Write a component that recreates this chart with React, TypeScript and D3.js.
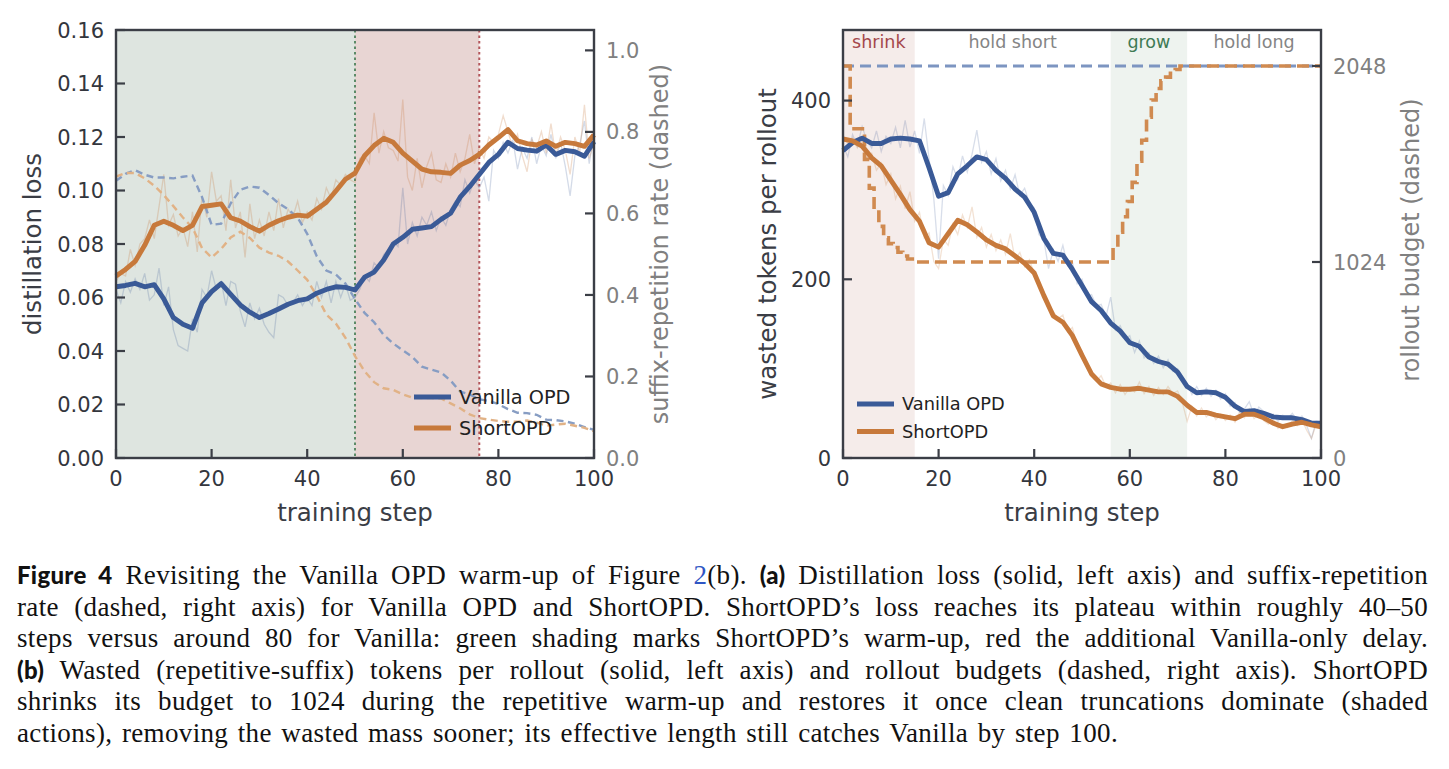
import React, { useEffect, useRef } from 'react';
import * as d3 from 'd3';

const W = 1449;
const H = 769;
const SANS = 'DejaVu Sans, sans-serif';
const SERIF = 'Liberation Serif, serif';
const BOLD = 'Lato, sans-serif';

const blue = '#3a5a97';
const orange = '#c7793b';
const axisColor = '#3b3e46';
const grayText = '#808080';

// training steps: raw series are logged every step, smoothed curves every 2 steps
const steps = d3.range(0, 101);
const smoothSteps = d3.range(0, 101, 2);

// ---------- panel (a): distillation loss + suffix-repetition rate ----------
const lossVanillaRaw = [
  0.063, 0.058, 0.066, 0.062, 0.067, 0.063, 0.069, 0.059, 0.061, 0.071,
  0.057, 0.064, 0.048, 0.042, 0.041, 0.040, 0.052, 0.047, 0.063, 0.060,
  0.070, 0.063, 0.066, 0.057, 0.066, 0.065, 0.055, 0.049, 0.058, 0.052,
  0.056, 0.050, 0.047, 0.045, 0.061, 0.060, 0.057, 0.058, 0.061, 0.057,
  0.060, 0.057, 0.066, 0.060, 0.066, 0.058, 0.066, 0.060, 0.065, 0.059,
  0.060, 0.063, 0.068, 0.066, 0.073, 0.071, 0.076, 0.078, 0.081, 0.079,
  0.101, 0.080, 0.088, 0.083, 0.090, 0.087, 0.092, 0.085, 0.090, 0.087,
  0.093, 0.096, 0.094, 0.104, 0.099, 0.104, 0.101, 0.105, 0.096, 0.115,
  0.112, 0.118, 0.114, 0.119, 0.108, 0.116, 0.112, 0.120, 0.110, 0.117,
  0.113, 0.121, 0.112, 0.118, 0.109, 0.098, 0.113, 0.117, 0.126, 0.110,
  0.121,
];
const lossShortRaw = [
  0.066, 0.069, 0.068, 0.078, 0.072, 0.080, 0.082, 0.089, 0.082, 0.094,
  0.106, 0.087, 0.091, 0.083, 0.086, 0.079, 0.092, 0.077, 0.098, 0.090,
  0.107, 0.096, 0.098, 0.085, 0.104, 0.086, 0.092, 0.075, 0.095, 0.082,
  0.089, 0.083, 0.092, 0.085, 0.097, 0.086, 0.093, 0.090, 0.096, 0.088,
  0.092, 0.089, 0.097, 0.093, 0.101, 0.097, 0.104, 0.102, 0.106, 0.104,
  0.103, 0.112, 0.113, 0.110, 0.129, 0.114, 0.122, 0.116, 0.115, 0.111,
  0.134, 0.105, 0.100, 0.112, 0.101, 0.109, 0.114, 0.104, 0.103, 0.110,
  0.105, 0.114, 0.107, 0.112, 0.121, 0.110, 0.116, 0.112, 0.120, 0.118,
  0.121, 0.128, 0.122, 0.116, 0.121, 0.113, 0.107, 0.119, 0.116, 0.122,
  0.114, 0.125, 0.113, 0.120, 0.115, 0.106, 0.120, 0.114, 0.132, 0.112,
  0.118,
];
const lossVanilla = [
  0.064, 0.0645, 0.0653, 0.064, 0.0648, 0.0595, 0.0525, 0.050, 0.0485, 0.058,
  0.0622, 0.0652, 0.0612, 0.0572, 0.0545, 0.0525, 0.054, 0.0557, 0.0575, 0.0588,
  0.0595, 0.0616, 0.063, 0.064, 0.0638, 0.0628, 0.0676, 0.0695, 0.074, 0.080,
  0.0825, 0.0855, 0.086, 0.0865, 0.0892, 0.0915, 0.0975, 0.1015, 0.106, 0.1105,
  0.1135, 0.118, 0.1157, 0.1151, 0.1147, 0.117, 0.1135, 0.115, 0.1145, 0.1128,
  0.1183,
];
const lossShort = [
  0.068, 0.0705, 0.0735, 0.0795, 0.087, 0.0885, 0.087, 0.085, 0.087, 0.094,
  0.0945, 0.095, 0.0898, 0.0886, 0.0865, 0.0848, 0.087, 0.0887, 0.090, 0.0908,
  0.0904, 0.093, 0.0956, 0.0998, 0.1042, 0.1065, 0.113, 0.1168, 0.1195, 0.118,
  0.114, 0.111, 0.108, 0.107, 0.1068, 0.1064, 0.1095, 0.1112, 0.1135, 0.117,
  0.1198, 0.1228, 0.1186, 0.1175, 0.117, 0.1185, 0.1165, 0.118, 0.1175, 0.1165,
  0.1208,
];
const rateVanilla = [
  0.680, 0.697, 0.706, 0.695, 0.688, 0.688, 0.686, 0.690, 0.693, 0.640,
  0.572, 0.575, 0.625, 0.658, 0.666, 0.663, 0.645, 0.625, 0.610, 0.590,
  0.550, 0.495, 0.460, 0.450, 0.428, 0.390, 0.356, 0.333, 0.302, 0.281,
  0.264, 0.248, 0.224, 0.217, 0.210, 0.190, 0.163, 0.156, 0.144, 0.140,
  0.132, 0.120, 0.111, 0.110, 0.106, 0.094, 0.093, 0.090, 0.084, 0.076,
  0.069,
];
const rateShort = [
  0.690, 0.699, 0.699, 0.686, 0.668, 0.645, 0.618, 0.590, 0.565, 0.515,
  0.492, 0.513, 0.541, 0.555, 0.540, 0.516, 0.504, 0.496, 0.482, 0.460,
  0.437, 0.398, 0.352, 0.330, 0.295, 0.250, 0.213, 0.186, 0.171, 0.167,
  0.156, 0.148, 0.147, 0.147, 0.146, 0.134, 0.122, 0.107, 0.098, 0.094,
  0.091, 0.089, 0.089, 0.092, 0.087, 0.079, 0.082, 0.084, 0.079, 0.074,
  0.066,
];
// ShortOPD warm-up ends at 50, Vanilla-only delay runs to 76
const warmupEdges = [0, 50, 76];
const lossTicks = [0, 0.02, 0.04, 0.06, 0.08, 0.1, 0.12, 0.14, 0.16];
const rateTicks = [0, 0.2, 0.4, 0.6, 0.8, 1.0];
const stepTicks = [0, 20, 40, 60, 80, 100];

// ---------- panel (b): wasted tokens + rollout budget ----------
const wastedVanillaRaw = [
  350, 337, 362, 349, 371, 355, 347, 366, 343, 360,
  352, 370, 347, 378, 348, 366, 341, 380, 335, 290,
  223, 305, 294, 326, 312, 338, 320, 340, 367, 331,
  343, 318, 335, 310, 322, 301, 317, 294, 302, 285,
  280, 250, 245, 212, 233, 220, 238, 215, 219, 195,
  200, 181, 183, 170, 172, 158, 180, 143, 148, 133,
  137, 118, 131, 112, 118, 106, 114, 101, 110, 97,
  100, 86, 83, 71, 80, 70, 78, 69, 76, 66,
  72, 58, 62, 51, 55, 63, 48, 57, 52, 45,
  49, 41, 48, 44, 50, 42, 47, 36, 22, 41,
  40,
];
const wastedShortRaw = [
  359, 352, 358, 347, 355, 336, 341, 322, 330, 306,
  318, 290, 304, 279, 298, 265, 275, 246, 252, 220,
  212, 245, 238, 262, 250, 272, 258, 281, 247, 258,
  236, 250, 232, 244, 228, 251, 222, 230, 214, 222,
  206, 194, 186, 170, 164, 156, 160, 141, 146, 123,
  120, 101, 98, 86, 92, 80, 84, 73, 82, 71,
  79, 74, 85, 72, 80, 70, 79, 71, 80, 72,
  75, 62, 41, 58, 47, 56, 46, 52, 43, 49,
  42, 48, 40, 52, 45, 55, 44, 50, 42, 38,
  43, 33, 38, 34, 42, 36, 43, 31, 22, 38,
  36,
];
const wastedVanilla = [
  344, 353, 358, 352, 352, 357, 358, 357, 355, 325,
  293, 297, 318, 327, 337, 334, 322, 313, 301, 292,
  275, 246, 229, 227, 211, 193, 175, 165, 151, 142,
  129, 125, 113, 108, 105, 96, 80, 73, 74, 73,
  68, 58, 52, 53, 50, 46, 45, 45, 43, 39,
  39,
];
const wastedShort = [
  357, 355, 349, 336, 327, 311, 295, 278, 265, 241,
  236, 251, 266, 261, 253, 244, 238, 234, 226, 218,
  207, 182, 159, 152, 137, 115, 94, 83, 79, 77,
  77, 78, 76, 74, 74, 69, 59, 51, 51, 48,
  46, 44, 49, 49, 45, 39, 35, 38, 40, 37,
  35,
];
const budgetShort = [
  2048, 2048, 1720, 1720, 1720, 1560, 1410, 1300, 1210, 1150,
  1120, 1100, 1075, 1055, 1040, 1024, 1024, 1024, 1024, 1024,
  1024, 1024, 1024, 1024, 1024, 1024, 1024, 1024, 1024, 1024,
  1024, 1024, 1024, 1024, 1024, 1024, 1024, 1024, 1024, 1024,
  1024, 1024, 1024, 1024, 1024, 1024, 1024, 1024, 1024, 1024,
  1024, 1024, 1024, 1024, 1024, 1024, 1024, 1100, 1180, 1260,
  1340, 1440, 1550, 1660, 1780, 1870, 1930, 1970, 1990, 2010,
  2030, 2048, 2048, 2048, 2048, 2048, 2048, 2048, 2048, 2048,
  2048, 2048, 2048, 2048, 2048, 2048, 2048, 2048, 2048, 2048,
  2048, 2048, 2048, 2048, 2048, 2048, 2048, 2048, 2048, 2048,
  2048,
];
const budgetVanillaSteps = [0, 100];
const budgetVanilla = [2048, 2048];

const phaseNames = ['shrink', 'hold short', 'grow', 'hold long'];
const phaseEdges = [0, 15, 56, 72, 100];
const phaseColors = ['#a4474b', '#858585', '#3f7b55', '#858585'];
const phaseFills = ['#f5ecea', 'none', '#eef3ef', 'none'];
const wastedTicks = [0, 200, 400];
const budgetTicks = [0, 1024, 2048];

const legendNames = ['Vanilla OPD', 'ShortOPD'];
const legendColors = [blue, orange];

type Pt = [number, number];
const zip = (xs: number[], ys: number[]): Pt[] => xs.map((x, i) => [x, ys[i]]);

function Frame({ x, y }: { x: d3.ScaleLinear<number, number>; y: d3.ScaleLinear<number, number> }) {
  const [x0, x1] = x.range();
  const [y0, y1] = y.range();
  return (
    <rect x={x0} y={y1} width={x1 - x0} height={y0 - y1} fill="none" stroke={axisColor} strokeWidth={2.4} />
  );
}

function BottomAxis({ x, y }: { x: d3.ScaleLinear<number, number>; y: number }) {
  return (
    <g>
      {stepTicks.map(t => (
        <g key={t}>
          <line x1={x(t)} x2={x(t)} y1={y} y2={y - 9} stroke={axisColor} strokeWidth={2.2} />
          <text x={x(t)} y={y + 28} textAnchor="middle" fontSize={21} fill="#33363d" fontFamily={SANS}>
            {t}
          </text>
        </g>
      ))}
    </g>
  );
}

function SideAxis({
  scale, ticks, at, side, color, fmt,
}: {
  scale: d3.ScaleLinear<number, number>; ticks: number[]; at: number; side: 'left' | 'right'; color: string;
  fmt: (v: number) => string;
}) {
  const dir = side === 'left' ? 1 : -1;
  return (
    <g>
      {ticks.map(t => (
        <g key={t}>
          <line x1={at} x2={at + dir * 9} y1={scale(t)} y2={scale(t)} stroke={axisColor} strokeWidth={2.2} />
          <text
            x={at - dir * 12}
            y={scale(t)}
            dy="0.36em"
            textAnchor={side === 'left' ? 'end' : 'start'}
            fontSize={21}
            fill={color}
            fontFamily={SANS}
          >
            {fmt(t)}
          </text>
        </g>
      ))}
    </g>
  );
}

function Legend({ x, y, gap, size }: { x: number; y: number; gap: number; size: number }) {
  return (
    <g>
      {legendNames.map((n, i) => (
        <g key={n}>
          <line x1={x} x2={x + 37} y1={y + i * gap} y2={y + i * gap} stroke={legendColors[i]} strokeWidth={4.8} />
          <text x={x + 45} y={y + i * gap} dy="0.36em" fontSize={size} fill="#222" fontFamily={SANS}>
            {n}
          </text>
        </g>
      ))}
    </g>
  );
}

function PanelA() {
  const x = d3.scaleLinear().domain([0, 100]).range([116, 594]);
  const yL = d3.scaleLinear().domain([0, 0.16]).range([458, 30]);
  const yR = d3.scaleLinear().domain([0, 1.05]).range([458, 30]);
  const lineL = d3.line<Pt>().x(d => x(d[0])).y(d => yL(d[1]));
  const lineR = d3.line<Pt>().x(d => x(d[0])).y(d => yR(d[1]));
  const shade = ['#dee5e0', '#e8d5d3'];
  const marker = ['#5b8a67', '#b3565b'];
  return (
    <g>
      {[0, 1].map(i => (
        <rect
          key={i}
          x={x(warmupEdges[i])}
          y={30}
          width={x(warmupEdges[i + 1]) - x(warmupEdges[i])}
          height={428}
          fill={shade[i]}
        />
      ))}
      {[1, 2].map(i => (
        <line
          key={i}
          x1={x(warmupEdges[i])}
          x2={x(warmupEdges[i])}
          y1={30}
          y2={458}
          stroke={marker[i - 1]}
          strokeWidth={2}
          strokeDasharray="2.5,3"
        />
      ))}
      <path d={lineL(zip(steps, lossVanillaRaw)) ?? ''} fill="none" stroke={blue} strokeOpacity={0.22} strokeWidth={1.3} />
      <path d={lineL(zip(steps, lossShortRaw)) ?? ''} fill="none" stroke={orange} strokeOpacity={0.25} strokeWidth={1.3} />
      <path d={lineR(zip(smoothSteps, rateVanilla)) ?? ''} fill="none" stroke="#879dc3" strokeWidth={2.4} strokeDasharray="7,4.5" />
      <path d={lineR(zip(smoothSteps, rateShort)) ?? ''} fill="none" stroke="#e1b286" strokeWidth={2.4} strokeDasharray="7,4.5" />
      <path d={lineL(zip(smoothSteps, lossVanilla)) ?? ''} fill="none" stroke={blue} strokeWidth={4.9} strokeLinejoin="round" />
      <path d={lineL(zip(smoothSteps, lossShort)) ?? ''} fill="none" stroke={orange} strokeWidth={4.9} strokeLinejoin="round" />
      <Frame x={x} y={yL} />
      <SideAxis scale={yL} ticks={lossTicks} at={116} side="left" color="#33363d" fmt={d3.format('.2f')} />
      <SideAxis scale={yR} ticks={rateTicks} at={594} side="right" color={grayText} fmt={d3.format('.1f')} />
      <BottomAxis x={x} y={458} />
      <Legend x={414} y={397} gap={31} size={19.3} />
      <text x={355} y={521} textAnchor="middle" fontSize={24.5} fill="#3a3d45" fontFamily={SANS}>training step</text>
      <text transform="translate(40.5,244) rotate(-90)" textAnchor="middle" fontSize={24.5} fill="#3a3d45" fontFamily={SANS}>
        distillation loss
      </text>
      <text transform="translate(668,244) rotate(-90)" textAnchor="middle" fontSize={24} fill={grayText} fontFamily={SANS}>
        suffix-repetition rate (dashed)
      </text>
    </g>
  );
}

function PanelB() {
  const x = d3.scaleLinear().domain([0, 100]).range([843, 1321]);
  const yL = d3.scaleLinear().domain([0, 479]).range([458, 30]);
  const yR = d3.scaleLinear().domain([0, 2236]).range([458, 30]);
  const lineL = d3.line<Pt>().x(d => x(d[0])).y(d => yL(d[1]));
  const lineR = d3.line<Pt>().x(d => x(d[0])).y(d => yR(d[1]));
  const stepR = d3.line<Pt>().x(d => x(d[0])).y(d => yR(d[1])).curve(d3.curveStep);
  return (
    <g>
      {phaseNames.map((n, i) =>
        phaseFills[i] === 'none' ? null : (
          <rect
            key={n}
            x={x(phaseEdges[i])}
            y={30}
            width={x(phaseEdges[i + 1]) - x(phaseEdges[i])}
            height={428}
            fill={phaseFills[i]}
          />
        ),
      )}
      {phaseNames.map((n, i) => (
        <text
          key={n}
          x={(x(phaseEdges[i]) + x(phaseEdges[i + 1])) / 2}
          y={48}
          textAnchor="middle"
          fontSize={17.5}
          fill={phaseColors[i]}
          fontFamily={SANS}
        >
          {n}
        </text>
      ))}
      <path d={lineL(zip(steps, wastedVanillaRaw)) ?? ''} fill="none" stroke={blue} strokeOpacity={0.2} strokeWidth={1.3} />
      <path d={lineL(zip(steps, wastedShortRaw)) ?? ''} fill="none" stroke={orange} strokeOpacity={0.22} strokeWidth={1.3} />
      <path d={lineR(zip(budgetVanillaSteps, budgetVanilla)) ?? ''} fill="none" stroke="#7d95c1" strokeWidth={2.8} strokeDasharray="11,6" />
      <path d={stepR(zip(steps, budgetShort)) ?? ''} fill="none" stroke="#d08a50" strokeWidth={3.6} strokeDasharray="12,6" />
      <path d={lineL(zip(smoothSteps, wastedVanilla)) ?? ''} fill="none" stroke={blue} strokeWidth={4.9} strokeLinejoin="round" />
      <path d={lineL(zip(smoothSteps, wastedShort)) ?? ''} fill="none" stroke={orange} strokeWidth={4.9} strokeLinejoin="round" />
      <Frame x={x} y={yL} />
      <SideAxis scale={yL} ticks={wastedTicks} at={843} side="left" color="#33363d" fmt={d3.format('d')} />
      <SideAxis scale={yR} ticks={budgetTicks} at={1321} side="right" color={grayText} fmt={d3.format('d')} />
      <BottomAxis x={x} y={458} />
      <Legend x={857} y={404} gap={27.5} size={17.8} />
      <text x={1082} y={521} textAnchor="middle" fontSize={24.5} fill="#3a3d45" fontFamily={SANS}>training step</text>
      <text transform="translate(776,244) rotate(-90)" textAnchor="middle" fontSize={24.5} fill="#3a3d45" fontFamily={SANS}>
        wasted tokens per rollout
      </text>
      <text transform="translate(1419,240) rotate(-90)" textAnchor="middle" fontSize={24} fill={grayText} fontFamily={SANS}>
        rollout budget (dashed)
      </text>
    </g>
  );
}

// caption lines, justified out to the right margin except the last
const captionBaselines = [584, 615.5, 647, 678.5, 710, 741.5];
const captionRight = [1428, 1428, 1428, 1428, 1428, 1118];

function Caption() {
  const b = (s: string) => (
    <tspan fontFamily={BOLD} fontWeight={900} fontSize={24} letterSpacing={0.3}>{s}</tspan>
  );
  const lines = [
    <>
      {b('Figure 4')} Revisiting the Vanilla OPD warm-up of Figure <tspan fill="#2f56c4">2</tspan>(b). {b('(a)')} Distillation loss (solid, left axis) and suffix-repetition
    </>,
    <>rate (dashed, right axis) for Vanilla OPD and ShortOPD. ShortOPD’s loss reaches its plateau within roughly 40–50</>,
    <>steps versus around 80 for Vanilla: green shading marks ShortOPD’s warm-up, red the additional Vanilla-only delay.</>,
    <>
      {b('(b)')} Wasted (repetitive-suffix) tokens per rollout (solid, left axis) and rollout budgets (dashed, right axis). ShortOPD
    </>,
    <>shrinks its budget to 1024 during the repetitive warm-up and restores it once clean truncations dominate (shaded</>,
    <>actions), removing the wasted mass sooner; its effective length still catches Vanilla by step 100.</>,
  ];
  return (
    <g>
      {lines.map((l, i) => (
        <text
          key={i}
          className="cap"
          data-w={captionRight[i] - 17}
          x={17}
          y={captionBaselines[i]}
          fontFamily={SERIF}
          fontSize={27}
          letterSpacing={0.35}
          fill="#111"
          xmlSpace="preserve"
        >
          {l}
        </text>
      ))}
    </g>
  );
}

export default function App() {
  const ref = useRef<SVGSVGElement>(null);
  useEffect(() => {
    if (!ref.current) return;
    d3.select(ref.current)
      .selectAll<SVGTextElement, unknown>('text.cap')
      .each(function () {
        const target = +(this.getAttribute('data-w') || 0);
        this.setAttribute('word-spacing', '0');
        const w = this.getComputedTextLength();
        const spaces = ((this.textContent || '').match(/ /g) || []).length;
        if (spaces > 0) this.setAttribute('word-spacing', String((target - w) / spaces));
      });
  }, []);
  return (
    <svg
      ref={ref}
      width={W}
      height={H}
      style={{ position: 'absolute', left: 0, top: 0, background: '#fff' }}
    >
      <rect width={W} height={H} fill="#fff" />
      <PanelA />
      <PanelB />
      <Caption />
    </svg>
  );
}
